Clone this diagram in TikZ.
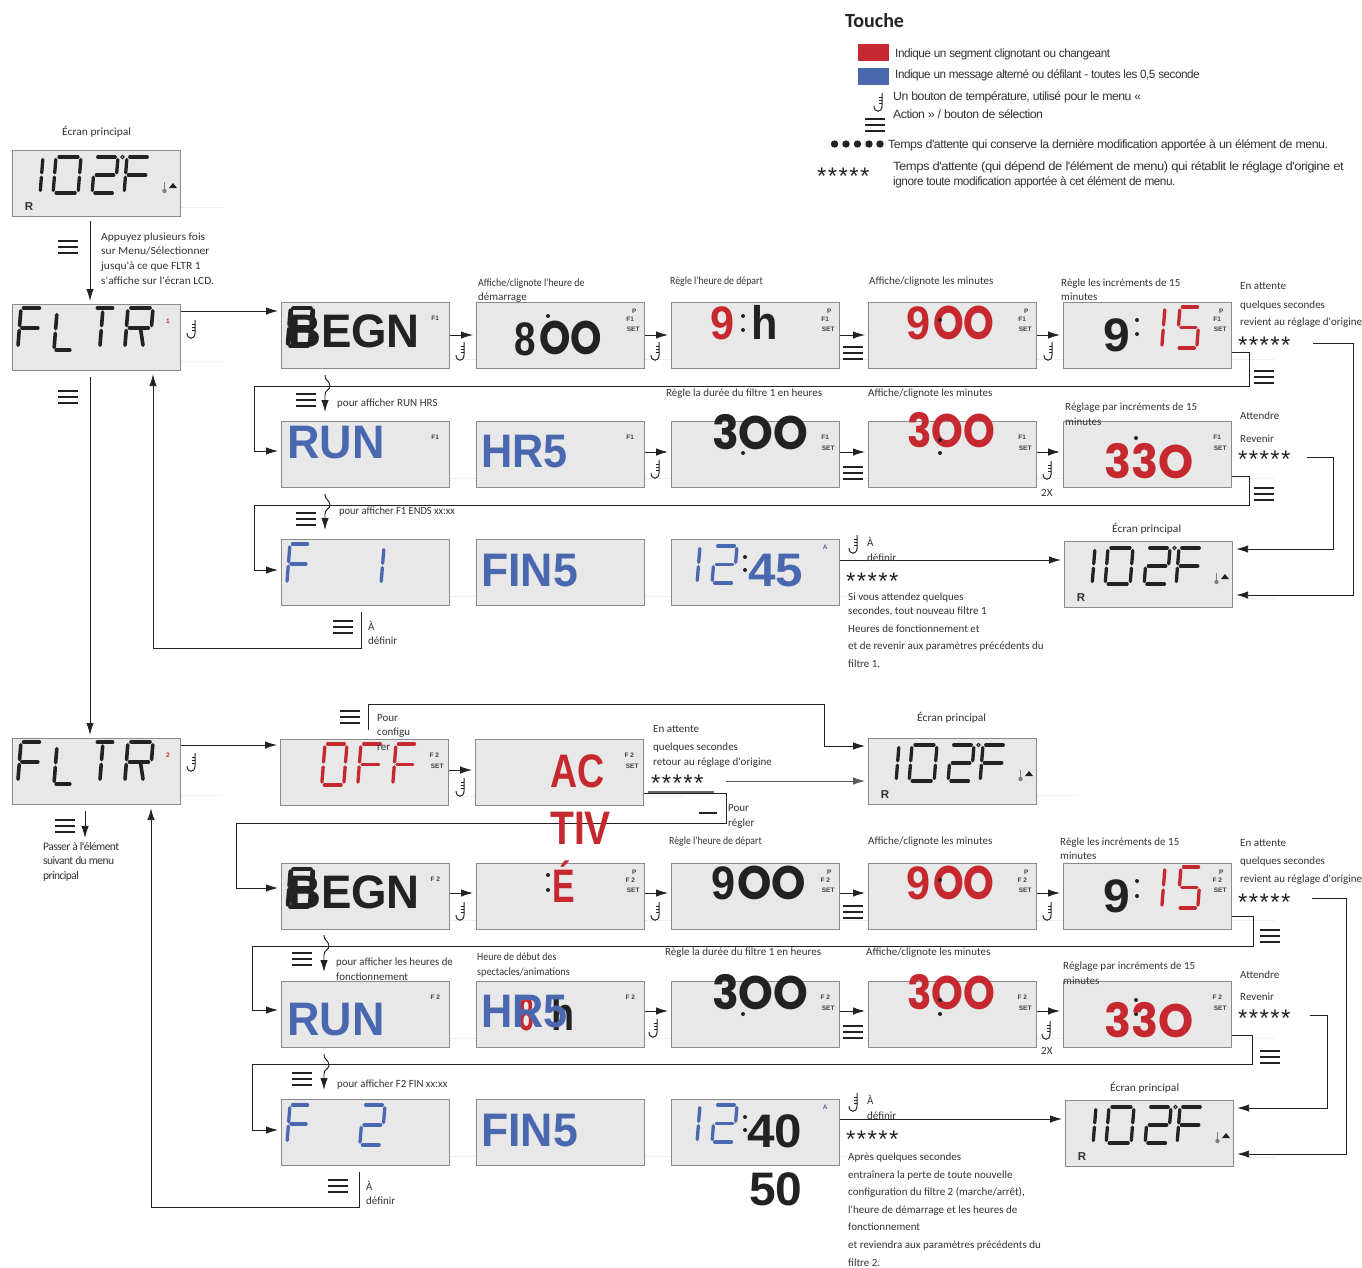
\documentclass[tikz,border=0pt]{standalone}
\usepackage{fontspec}
\usetikzlibrary{arrows.meta,calc}
\newfontfamily\car{Carlito}
\newfontfamily\cart[LetterSpace=-5]{Carlito}
\newfontfamily\las{Liberation Sans}
\newfontfamily\leg[LetterSpace=-4]{Liberation Sans}
\newfontfamily\pop{Poppins}
\definecolor{lcdbg}{HTML}{E8E8E8}
\definecolor{lcdln}{HTML}{8A8A8A}
\definecolor{segk}{HTML}{222222}
\definecolor{segr}{HTML}{C5282E}
\definecolor{segb}{HTML}{4A68B0}
\definecolor{txt}{HTML}{333333}
\definecolor{faintl}{HTML}{EFEFEF}
\newcount\tnc
\tikzset{
 lcd/.style={draw=lcdln,fill=lcdbg,line width=1.2pt,rectangle,inner sep=0pt,anchor=north west,minimum width=168pt,minimum height=66pt},
 lbl/.style={anchor=base west,inner sep=0pt,text=txt,font=\car\fontsize{11}{11}\selectfont},
 lblt/.style={anchor=base west,inner sep=0pt,text=txt,font=\cart\fontsize{11.5}{11.5}\selectfont},
 legt/.style={anchor=base west,inner sep=0pt,text=txt,font=\leg\fontsize{12}{12}\selectfont},
 tagt/.style={inner sep=0pt,text=black!75,font=\las\bfseries\fontsize{6.5}{6.5}\selectfont},
 bigt/.style={anchor=base west,inner sep=0pt,font=\las\bfseries\fontsize{47}{47}\selectfont},
 popt/.style={anchor=base west,inner sep=0pt,font=\pop\bfseries\fontsize{47}{47}\selectfont},
 startxt/.style={anchor=base west,inner sep=0pt,text=segk,font=\las\fontsize{24}{24}\selectfont},
 conn/.style={draw=segk,line width=.95pt,-{Latex[length=12pt,width=7.5pt]},shorten >=3pt},
 faint/.style={draw=faintl,line width=.8pt},
 hook/.pic={
  \draw[segk,line width=1pt] (3,-9) -- (3,4) .. controls (3,11) and (-5,11) .. (-5,4);
  \draw[segk,line width=.8pt] (3,-5) -- (0,-5) (3,-2) -- (0,-2) (3,1) -- (0,1);
 },
 menubars/.pic={
  \draw[segk,line width=2.9pt] (-10,-6) -- (10,-6) (-10,0) -- (10,0) (-10,6) -- (10,6);
 },
}
\newcommand\sga{\draw (.12,0) -- (.88,0);}
\newcommand\sgb{\draw (1,.07) -- (1,.44);}
\newcommand\sgc{\draw (1,.56) -- (1,.93);}
\newcommand\sgd{\draw (.12,1) -- (.88,1);}
\newcommand\sge{\draw (0,.56) -- (0,.93);}
\newcommand\sgf{\draw (0,.07) -- (0,.44);}
\newcommand\sgg{\draw (.12,.5) -- (.88,.5);}
\newcommand\sgi{\draw (.4,.1) -- (.4,.44);}
\newcommand\sgj{\draw (.4,.56) -- (.4,.93);}
\newcommand\sgk{\draw (.58,.55) -- (.72,.93);}
% [lw]{colour}{x}{ytop}{w}{h}{segments}
\newcommand\sgm[7][3.3]{\begin{scope}[shift={(#3,#4)},x={(#5pt,0pt)},y={(-0.08*#6pt,-#6pt)},color=#2,line width=#1pt,line cap=round]
 \foreach \s in {#7}{\csname sg\s\endcsname}\end{scope}}
\newcommand\lab[3]{\global\advance\tnc by 1 \node[lbl] (t\the\tnc) at (#1,#2+4.5) {#3};}
\newcommand\labs[4]{\global\advance\tnc by 1 \node[lbl] (t\the\tnc) at (#2,#3+4.5) {\scalebox{#1}[1]{#4}};}
\newcommand\labt[3]{\global\advance\tnc by 1 \node[lblt] (t\the\tnc) at (#1,#2+4.5) {#3};}
\newcommand\legx[4]{\global\advance\tnc by 1 \node[legt] (t\the\tnc) at (#2,#3+4) {\scalebox{#1}[1]{#4}};}
\newcommand\starz[2]{\global\advance\tnc by 1 \node[startxt] (t\the\tnc) at (#1,#2+13) {*\kern1.4pt*\kern1.4pt*\kern1.4pt*\kern1.4pt*};}
\newcommand\bigtx[5]{\global\advance\tnc by 1 \node[bigt,text=#1] (t\the\tnc) at (#2,#3) {\scalebox{#4}[1]{#5}};}
\newcommand\poptx[5]{\global\advance\tnc by 1 \node[popt,text=#1] (t\the\tnc) at (#2,#3) {\scalebox{#4}[1]{#5}};}
\newcommand\tagn[5][black!75]{\global\advance\tnc by 1 \node[tagt,text=#1] (t\the\tnc) at ($(#2.north east)+(#3,#4)$) {#5};}
\newcommand\tagP[2]{\tagn{#1}{-11}{9}{P}\tagn{#1}{-15}{17}{#2}\tagn{#1}{-12}{27}{SET}}
\newcommand\tagS[2]{\tagn{#1}{-15}{16}{#2}\tagn{#1}{-12}{27}{SET}}
\newcommand\tagF[2]{\tagn{#1}{-15}{16}{#2}}
\newcommand\dotpt[2]{\fill[segk] (#1,#2) circle (2pt);}
\newcommand\lcdbox[3]{\node[lcd] (#1) at (#2,#3) {};\draw[faint] ($(#1.south east)+(0,-10)$) -- ++(42,0);}
\newcommand\mainscr[3]{\lcdbox{#1}{#2}{#3}
 \begin{scope}[shift={(#2,#3)}]
  \sgm{segk}{28}{7}{3}{36}{b,c}
  \sgm{segk}{44}{7}{25}{36}{a,b,c,d,e,f}
  \sgm{segk}{83}{7}{23}{36}{a,b,g,e,d}
  \sgm{segk}{115}{7}{23}{36}{a,f,e,g}
  \draw[segk,line width=1pt] (110.5,7) circle (1.7pt);
  \draw[gray,line width=.8pt] (152.5,32) -- (152.5,40);\fill[gray] (152.5,41) circle (2.2pt);
  \fill[segk] (157,38) -- (165,38) -- (161,33) -- cycle;
 \end{scope}
 \global\advance\tnc by 1 \node[anchor=base,inner sep=0pt,text=txt,font=\las\bfseries\fontsize{11.5}{11.5}\selectfont] (t\the\tnc) at (#2+17,#3+60) {R};}
\newcommand\fltrscr[4]{\lcdbox{#1}{#2}{#3}
 \begin{scope}[shift={(#2,#3)}]
  \sgm[3.6]{segk}{9}{4}{21}{40}{a,f,e,g}
  \sgm[3.6]{segk}{45}{8}{18}{38}{f,e,d}
  \sgm[3.6]{segk}{83}{4}{20}{40}{a,i,j}
  \sgm[3.6]{segk}{116}{4}{25}{40}{a,b,f,e,g,k}
 \end{scope}
 \global\advance\tnc by 1 \node[tagt,text=segr] (t\the\tnc) at (#2+156,#3+17) {#4};}
\newcommand\wavy[3]{\coordinate (wv#3) at (#1,#2);
 \draw[conn] (wv#3) .. controls (#1-1,#2+5) and (#1+5,#2+6) .. (#1+5,#2+11) .. controls (#1+5,#2+15) and (#1,#2+15) .. (#1,#2+20) -- ($(#1,0 |- #3.north)+(0,-6)$);}
\begin{document}
\begin{tikzpicture}[x=1pt,y=-1pt]
\useasboundingbox (0,0) rectangle (1362,1267);
\fill[white] (0,0) rectangle (1362,1267);
% ---------- boxes ----------
\mainscr{mainA}{12}{150}
\fltrscr{fltrA}{12}{304}{1}
\lcdbox{begA}{281}{302}\lcdbox{stA}{476}{302}\lcdbox{hrA}{671}{302}\lcdbox{mnA}{868}{302}\lcdbox{incA}{1063}{302}
\lcdbox{runA}{281}{421}\lcdbox{hfA}{476}{421}\lcdbox{duA}{671}{421}\lcdbox{dmA}{868}{421}\lcdbox{diA}{1063}{421}
\lcdbox{fA}{281}{539}\lcdbox{finA}{476}{539}\lcdbox{clkA}{671}{539}
\mainscr{mainB}{1064}{541}
\fltrscr{fltrB}{12}{738}{2}
\lcdbox{offB}{280}{739}\lcdbox{actB}{475}{739}
\mainscr{mainC}{868}{738}
\lcdbox{begB}{281}{863}\lcdbox{stB}{476}{863}\lcdbox{hrB}{671}{863}\lcdbox{mnB}{868}{863}\lcdbox{incB}{1063}{863}
\lcdbox{runB}{281}{981}\lcdbox{hfB}{476}{981}\lcdbox{duB}{671}{981}\lcdbox{dmB}{868}{981}\lcdbox{diB}{1063}{981}
\lcdbox{fB}{281}{1099}\lcdbox{finB}{476}{1099}\lcdbox{clkB}{671}{1099}
\mainscr{mainD}{1065}{1100}
% ---------- tags ----------
\tagF{begA}{F1}\tagP{stA}{F1}\tagP{hrA}{F1}\tagP{mnA}{F1}\tagP{incA}{F1}
\tagF{runA}{F1}\tagF{hfA}{F1}\tagS{duA}{F1}\tagS{dmA}{F1}\tagS{diA}{F1}
\tagS{offB}{F 2}\tagS{actB}{F 2}
\tagF{begB}{F 2}\tagP{stB}{F 2}\tagP{hrB}{F 2}\tagP{mnB}{F 2}\tagP{incB}{F 2}
\tagF{runB}{F 2}\tagF{hfB}{F 2}\tagS{duB}{F 2}\tagS{dmB}{F 2}\tagS{diB}{F 2}
\tagn[segb]{clkA}{-15}{8}{A}\tagn[segb]{clkB}{-15}{8}{A}
% ---------- connectors ----------
\draw[conn,shorten <=4pt] (90,0 |- mainA.south) -- (90,0 |- fltrA.north);
\draw[conn,shorten <=6pt] (90,0 |- fltrA.south) -- (90,0 |- fltrB.north);
\draw[conn] (fltrA.east |- 0,311) -- (begA.west |- 0,311);
\foreach \a/\b in {begA/stA,stA/hrA,hrA/mnA,mnA/incA}{\draw[conn] (\a.east |- 0,335) -- (\b.west |- 0,335);}
\foreach \a/\b in {hfA/duA,duA/dmA,dmA/diA}{\draw[conn] (\a.east |- 0,452) -- (\b.west |- 0,452);}
\draw[conn] (incA.east |- 0,352) -- (1249,352) -- (1249,386) -- (254,386) -- (254,451) -- (runA.west |- 0,451);
\wavy{325}{375}{runA}
\draw[conn] (diA.east |- 0,476) -- (1249,476) -- (1249,505) -- (254,505) -- (254,570) -- (fA.west |- 0,570);
\wavy{325}{494}{fA}
\draw[conn] (clkA.east |- 0,560) -- (mainB.west |- 0,560);
\draw[conn] (361,612) -- (361,648) -- (153,648) -- (153,0 |- fltrA.south);
\coordinate (wA) at (1313,343);\draw[conn] (wA) -- (1353,343) -- (1353,595) -- (mainB.east |- 0,595);
\coordinate (wB) at (1307,457);\draw[conn] (wB) -- (1333,457) -- (1333,549) -- (mainB.east |- 0,549);
\draw[conn] (fltrB.east |- 0,745) -- (offB.west |- 0,745);
\draw[conn] (offB.east |- 0,770) -- (actB.west |- 0,770);
\coordinate (wC) at (726,781);\draw[conn,draw=black!65] (wC) -- (mainC.west |- 0,781);
\draw[conn] (368,730) -- (368,704) -- (824,704) -- (824,746) -- (mainC.west |- 0,746);
\draw[black!60,line width=2pt] (648,792) -- (714,792);
\draw[conn] (actB.east |- 0,793) -- (726,793) -- (726,823) -- (236,823) -- (236,888) -- (begB.west |- 0,888);
\foreach \a/\b in {begB/stB,stB/hrB,hrB/mnB,mnB/incB}{\draw[conn] (\a.east |- 0,893) -- (\b.west |- 0,893);}
\foreach \a/\b in {hfB/duB,duB/dmB,dmB/diB}{\draw[conn] (\a.east |- 0,1011) -- (\b.west |- 0,1011);}
\draw[conn] (incB.east |- 0,916) -- (1253,916) -- (1253,946) -- (252,946) -- (252,1010) -- (runB.west |- 0,1010);
\wavy{324}{935}{runB}
\draw[conn] (diB.east |- 0,1035) -- (1252,1035) -- (1252,1064) -- (252,1064) -- (252,1130) -- (fB.west |- 0,1130);
\wavy{324}{1054}{fB}
\draw[conn] (clkB.east |- 0,1119) -- (mainD.west |- 0,1119);
\draw[conn] (359,1172) -- (359,1207) -- (151,1207) -- (151,0 |- fltrB.south);
\coordinate (wD) at (1312,898);\draw[conn] (wD) -- (1346,898) -- (1346,1154) -- (mainD.east |- 0,1154);
\coordinate (wE) at (1310,1015);\draw[conn] (wE) -- (1327,1015) -- (1327,1108) -- (mainD.east |- 0,1108);
\coordinate (wF) at (85,811);\coordinate (wG) at (85,838);\draw[conn,shorten >=0pt] (wF) -- (wG);
% ---------- icons ----------
\foreach \p in {{192,329},{461,351},{656,351},{1049,351},{656,469},{1048,470},{854,544},{192,762},{461,787},{461,911},{656,911},{1048,911},{654,1028},{1047,1030},{854,1102},{879,102}}{\pic at (\p) {hook};}
\foreach \p in {{68,247},{68,397},{853,353},{1264,377},{306,400},{853,473},{1264,494},{306,519},{343,627},{350,717},{853,912},{1270,936},{302,959},{853,1032},{1270,1057},{302,1079},{338,1186},{65,826},{875,125}}{\pic at (\p) {menubars};}
\draw[segk,line width=2.6pt] (699,813) -- (717,813);
% ---------- displays: row A ----------
\sgm[4.8]{segk}{291}{308}{22}{38}{a,b,c,d,e,f,g}
\bigtx{segk}{288}{347}{.97}{BEGN}
\dotpt{548}{316}\dotpt{548}{330}
\bigtx{segk}{514}{355}{.82}{8}\poptx{segk}{539}{354}{.85}{OO}
\bigtx{segr}{710}{339}{.92}{9}\dotpt{743}{316}\dotpt{743}{330}\bigtx{segk}{751}{339}{.92}{h}
\bigtx{segr}{906}{339}{.92}{9}\poptx{segr}{933}{339}{.83}{OO}\dotpt{940}{320}
\bigtx{segk}{1103}{351}{1.02}{9}\dotpt{1137}{320}\dotpt{1137}{334}
\sgm{segr}{1161}{307}{4}{41}{b,c}\sgm{segr}{1180}{307}{20}{41}{a,f,g,c,d}
\bigtx{segb}{287}{458}{.955}{RUN}
\bigtx{segb}{481}{467}{.92}{HR5}
\poptx{segk}{712}{449}{.94}{3OO}\dotpt{743}{453}
\poptx{segr}{907}{447}{.86}{3OO}\dotpt{940}{453}\dotpt{940}{440}
\dotpt{1136}{438}\dotpt{1136}{452}\poptx{segr}{1104}{478}{.95}{33O}
\sgm{segb}{290}{544}{20}{40}{a,f,e,g}\sgm{segb}{381}{547}{3}{37}{b,c}
\bigtx{segb}{481}{586}{.95}{FIN5}
\sgm{segb}{697}{546}{3}{37}{b,c}\sgm{segb}{715}{546}{22}{37}{a,b,g,e,d}
\dotpt{745}{557}\dotpt{745}{570}\bigtx{segb}{748}{586}{1.05}{45}
% ---------- displays: row B ----------
\sgm{segr}{325}{744}{22}{41}{a,b,c,d,e,f}\sgm{segr}{361}{744}{22}{41}{a,f,e,g}\sgm{segr}{396}{744}{21}{41}{a,f,e,g}
\bigtx{segr}{550}{787}{.8}{AC}
\bigtx{segr}{550}{844}{.83}{TIV}
\sgm[4.8]{segk}{291}{869}{22}{38}{a,b,c,d,e,f,g}
\bigtx{segk}{288}{908}{.97}{BEGN}
\dotpt{548}{875}\dotpt{548}{890}\bigtx{segr}{552}{902}{.72}{É}
\bigtx{segk}{711}{899}{.92}{9}\poptx{segk}{737}{899}{.93}{OO}
\bigtx{segr}{906}{899}{.92}{9}\poptx{segr}{933}{899}{.83}{OO}\dotpt{940}{880}
\bigtx{segk}{1103}{912}{1.02}{9}\dotpt{1137}{881}\dotpt{1137}{896}
\sgm{segr}{1161}{867}{4}{41}{b,c}\sgm{segr}{1181}{867}{20}{41}{a,f,g,c,d}
\bigtx{segb}{287}{1035}{.955}{RUN}
\bigtx{segr}{519}{1030}{.55}{8}\bigtx{segk}{551}{1030}{.8}{h}\bigtx{segb}{481}{1027}{.92}{HR5}
\poptx{segk}{712}{1009}{.94}{3OO}\dotpt{743}{1014}
\poptx{segr}{907}{1009}{.86}{3OO}\dotpt{940}{1014}\dotpt{940}{1000}
\dotpt{1136}{1000}\dotpt{1136}{1014}\poptx{segr}{1104}{1037}{.95}{33O}
\sgm{segb}{290}{1105}{20}{38}{a,f,e,g}\sgm{segb}{363}{1105}{22}{40}{a,b,g,e,d}
\bigtx{segb}{481}{1146}{.95}{FIN5}
\sgm{segb}{697}{1105}{3}{37}{b,c}\sgm{segb}{715}{1105}{22}{37}{a,b,g,e,d}
\dotpt{745}{1117}\dotpt{745}{1130}\bigtx{segk}{747}{1147}{1.05}{40}
\bigtx{segk}{749}{1205}{1.02}{50}
% ---------- labels ----------
\labs{1.05}{62}{131}{Écran principal}
\labs{1.05}{101}{236}{Appuyez plusieurs fois}\labs{1.05}{101}{250}{sur Menu/Sélectionner}\labs{1.05}{101}{265}{jusqu'à ce que FLTR 1}\labs{1.05}{101}{280}{s'affiche sur l'écran LCD.}
\labs{.9}{478}{282}{Affiche/clignote l'heure de}\lab{478}{296}{démarrage}
\labs{.89}{670}{280}{Règle l'heure de départ}
\lab{869}{280}{Affiche/clignote les minutes}
\lab{1061}{282}{Règle les incréments de 15}\lab{1061}{296}{minutes}
\lab{1240}{285}{En attente}\lab{1240}{304}{quelques secondes}\lab{1240}{321}{revient au réglage d'origine}
\starz{1238}{340}
\lab{337}{402}{pour afficher RUN HRS}
\lab{666}{392}{Règle la durée du filtre 1 en heures}
\lab{868}{392}{Affiche/clignote les minutes}
\lab{1065}{406}{Réglage par incréments de 15}\lab{1065}{421}{minutes}
\lab{1240}{415}{Attendre}\lab{1240}{438}{Revenir}\starz{1238}{454}
\lab{1041}{492}{2X}
\labs{.95}{339}{510}{pour afficher F1 ENDS xx:xx}
\labs{1.05}{1112}{528}{Écran principal}
\lab{867}{542}{À}\lab{867}{557}{définir}\starz{846}{576}
\lab{848}{596}{Si vous attendez quelques}\lab{848}{610}{secondes, tout nouveau filtre 1}\lab{848}{628}{Heures de fonctionnement et}\lab{848}{645}{et de revenir aux paramètres précédents du}\lab{848}{663}{filtre 1.}
\lab{368}{626}{À}\lab{368}{640}{définir}
\lab{377}{717}{Pour}\lab{377}{731}{configu}\lab{377}{746}{rer}
\lab{653}{728}{En attente}\lab{653}{746}{quelques secondes}\lab{653}{761}{retour au réglage d'origine}\starz{651}{778}
\lab{728}{807}{Pour}\lab{728}{822}{régler}
\labs{1.05}{917}{717}{Écran principal}
\labt{43}{846}{Passer à l'élément}\labt{43}{860}{suivant du menu}\labt{43}{875}{principal}
\labs{.89}{669}{840}{Règle l'heure de départ}
\lab{868}{840}{Affiche/clignote les minutes}
\lab{1060}{841}{Règle les incréments de 15}\lab{1060}{855}{minutes}
\lab{1240}{842}{En attente}\lab{1240}{860}{quelques secondes}\lab{1240}{878}{revient au réglage d'origine}\starz{1238}{897}
\labs{.98}{336}{961}{pour afficher les heures de}\lab{336}{976}{fonctionnement}
\labs{.9}{477}{956}{Heure de début des}\labs{.93}{477}{971}{spectacles/animations}
\lab{665}{951}{Règle la durée du filtre 1 en heures}
\lab{866}{951}{Affiche/clignote les minutes}
\lab{1063}{965}{Réglage par incréments de 15}\lab{1063}{980}{minutes}
\lab{1240}{974}{Attendre}\lab{1240}{996}{Revenir}\starz{1238}{1013}
\lab{1041}{1050}{2X}
\labs{.98}{337}{1083}{pour afficher F2 FIN xx:xx}
\labs{1.05}{1110}{1087}{Écran principal}
\lab{867}{1100}{À}\lab{867}{1115}{définir}\starz{846}{1134}
\lab{848}{1156}{Après quelques secondes}\lab{848}{1174}{entraînera la perte de toute nouvelle}\lab{848}{1191}{configuration du filtre 2 (marche/arrêt),}\lab{848}{1209}{l'heure de démarrage et les heures de}\lab{848}{1226}{fonctionnement}\lab{848}{1244}{et reviendra aux paramètres précédents du}\lab{848}{1262}{filtre 2.}
\lab{366}{1186}{À}\lab{366}{1200}{définir}
% ---------- legend ----------
\node[anchor=base west,inner sep=0pt,text=segk,font=\car\bfseries\fontsize{20}{20}\selectfont] (legtitle) at (845,27) {Touche};
\node[fill=segr,minimum width=31pt,minimum height=17pt,inner sep=0pt,anchor=north west] (legr) at (858,44) {};
\node[fill=segb,minimum width=31pt,minimum height=17pt,inner sep=0pt,anchor=north west] (legb) at (858,68) {};
\legx{.982}{895}{53}{Indique un segment clignotant ou changeant}
\legx{.974}{895}{74}{Indique un message alterné ou défilant - toutes les 0,5 seconde}
\legx{1.025}{893}{96}{Un bouton de température, utilisé pour le menu «}
\legx{1.027}{893}{114}{Action » / bouton de sélection}
\legx{1.033}{888}{144}{Temps d'attente qui conserve la dernière modification apportée à un élément de menu.}
\legx{1.087}{893}{166}{Temps d'attente (qui dépend de l'élément de menu) qui rétablit le réglage d'origine et}
\legx{.983}{893}{181}{ignore toute modification apportée à cet élément de menu.}
\foreach \xx in {834.5,846,857.5,869,880}{\fill[segk] (\xx,144) circle (3.7pt);}
\starz{817}{171}
\end{tikzpicture}
\end{document}
